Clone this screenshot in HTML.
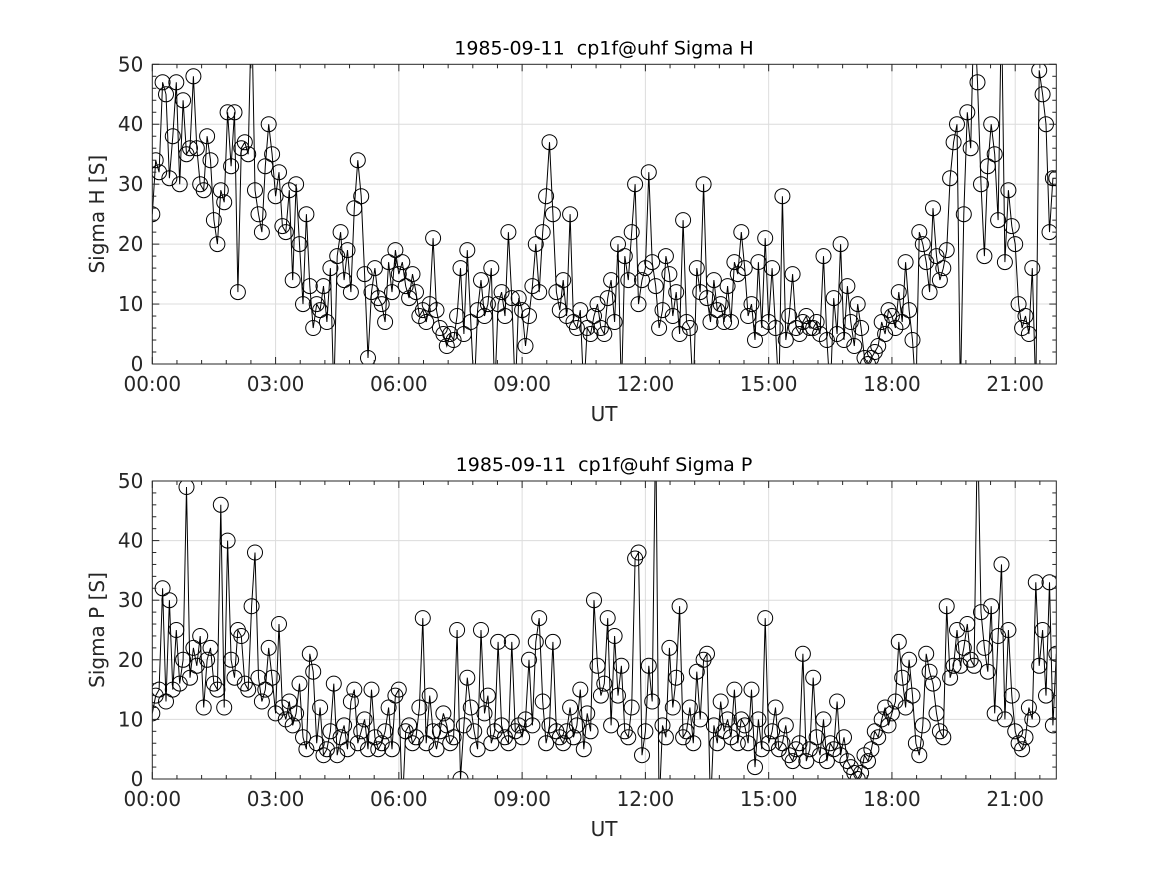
<!DOCTYPE html>
<html><head><meta charset="utf-8"><style>
html,body{margin:0;padding:0;background:#fff;}
svg{display:block;font-family:"DejaVu Sans","Liberation Sans",sans-serif;}
text{white-space:pre;}
</style></head><body>
<svg id="fig" width="1167" height="875" viewBox="0 0 1167 875" xmlns="http://www.w3.org/2000/svg"></svg>
<script>
const stepMinutes = 5;
const yTicks = [0,10,20,30,40,50];
const xTickHours = [0,3,6,9,12,15,18,21];
const xTickLabels = ["00:00","03:00","06:00","09:00","12:00","15:00","18:00","21:00"];
const sigmaH = [
25,34,32,47,45,31,38,47,30,44,35,36,
48,36,30,29,38,34,24,20,29,27,42,33,
42,12,36,37,35,60,29,25,22,33,40,35,
28,32,23,22,29,14,30,20,10,25,13,6,
10,9,13,7,16,-5,18,22,14,19,12,26,
34,28,15,1,12,16,11,10,7,17,12,19,
15,17,13,11,15,12,8,9,7,10,21,9,
6,5,3,5,4,8,16,5,19,7,-5,9,
14,8,10,16,-5,10,12,8,22,11,-5,11,
9,3,8,13,20,12,22,28,37,25,12,9,
14,8,25,7,6,9,-5,6,5,8,10,6,
5,11,14,7,20,-5,18,14,22,30,10,14,
16,32,17,13,6,9,18,15,8,12,5,24,
7,6,-5,16,12,30,11,7,14,9,10,7,
13,7,17,15,22,16,8,10,4,17,6,21,
7,16,6,-5,28,4,8,15,6,5,7,8,
6,6,7,5,18,4,-5,11,5,20,4,13,
7,3,10,6,1,0,1,2,3,7,5,9,
8,6,12,7,17,9,4,-5,22,20,17,12,
26,18,14,16,19,31,37,40,-5,25,42,36,
60,47,30,18,33,40,35,24,60,17,29,23,
20,10,6,8,5,16,-5,49,45,40,22,31,
31];
const sigmaP = [
11,14,15,32,13,30,15,25,16,20,49,17,
22,19,24,12,20,22,16,15,46,12,40,20,
17,25,24,16,15,29,38,17,13,15,22,17,
11,26,12,10,13,9,11,16,7,5,21,18,
6,12,4,5,8,16,4,7,9,5,13,15,
6,8,10,5,15,7,5,6,8,12,5,14,
15,-5,8,9,6,7,12,27,6,14,8,5,
8,11,9,6,7,25,0,9,17,12,8,5,
25,11,14,6,8,23,9,7,6,23,8,9,
7,10,20,9,23,27,13,6,9,23,8,7,
6,8,12,7,9,15,5,11,8,30,19,14,
16,27,9,24,14,19,8,7,12,37,38,4,
8,19,13,60,-5,9,7,22,12,17,29,7,
8,12,6,18,10,20,21,-5,9,6,13,8,
10,7,15,6,10,9,6,15,2,10,5,27,
6,8,12,5,6,9,4,3,5,6,21,3,
5,17,7,4,10,3,6,5,13,4,7,3,
2,1,0,1,4,3,5,8,7,10,12,9,
11,13,23,17,12,20,14,6,4,9,21,18,
16,11,8,7,29,17,19,25,19,22,26,20,
19,60,28,22,18,29,11,24,36,10,25,14,
8,6,5,7,12,10,33,19,25,14,33,9,
21];

const NS = "http://www.w3.org/2000/svg";
const svg = document.getElementById('fig');
function mk(tag, attrs, parent){
  const e = document.createElementNS(NS, tag);
  for (const k in attrs) e.setAttribute(k, attrs[k]);
  (parent||svg).appendChild(e);
  return e;
}
const X0 = 152.3, X1 = 1056.3, XMAX = 22;
function xs(h){ return X0 + (h/XMAX)*(X1-X0); }

function panel(cfg){
  const g = mk('g', {});
  
  
  const top = cfg.top, bot = cfg.bot;
  const ys = v => bot - (v/50)*(bot-top);
  const clipId = 'clip-' + cfg.name;
  const cp = mk('clipPath', {id: clipId}, g);
  mk('rect', {x: X0, y: top, width: X1-X0, height: bot-top}, cp);
  const grid = mk('g', {stroke:'#dcdcdc','stroke-width':1}, g);
  
  
  xTickHours.forEach(h => { if (h>0) mk('line',{x1:xs(h),x2:xs(h),y1:top,y2:bot},grid); });
  yTicks.forEach(v => { if (v>0 && v<50) mk('line',{x1:X0,x2:X1,y1:ys(v),y2:ys(v)},grid); });
  const dg = mk('g', {'clip-path':'url(#'+clipId+')'}, g);
  
  
  const pts = cfg.data.map((v,i)=> [xs(i*stepMinutes/60), ys(v)]);
  const line = mk('polyline', {points: pts.map(p=>p[0].toFixed(1)+','+p[1].toFixed(1)).join(' '), fill:'none', stroke:'#000','stroke-width':1}, dg);
  
  
  pts.forEach(p => {
    const c = mk('circle', {cx:p[0].toFixed(1), cy:p[1].toFixed(1), r:7.5, fill:'none', stroke:'#000','stroke-width':1}, dg);
    
    
  });
  const ax = mk('g', {stroke:'#262626','stroke-width':1, fill:'none'}, g);
  
  
  mk('rect', {x:X0, y:top, width:X1-X0, height:bot-top}, ax);
  for (let m=0; m<=XMAX*60; m+=36){
    const x = xs(m/60); const major = (m%180===0);
    const L = major?7:4;
    mk('line',{x1:x,x2:x,y1:bot,y2:bot-L},ax);
    mk('line',{x1:x,x2:x,y1:top,y2:top+L},ax);
  }
  for (let v=0; v<=50; v+=2){
    const y = ys(v); const major=(v%10===0); const L=major?7:4;
    mk('line',{x1:X0,x2:X0+L,y1:y,y2:y},ax);
    mk('line',{x1:X1,x2:X1-L,y1:y,y2:y},ax);
  }
  yTicks.forEach(v => {
    const t = mk('text',{x:X0-9,y:ys(v)+7,'text-anchor':'end','font-size':20,fill:'#262626'},g);
    t.textContent = v;
    
    
  });
  xTickHours.forEach((h,i) => {
    const t = mk('text',{x:xs(h),y:bot+27,'text-anchor':'middle','font-size':20,fill:'#262626'},g);
    t.textContent = xTickLabels[i];
    
    
  });
  const xl = mk('text',{x:604,y:bot+57,'text-anchor':'middle','font-size':20,fill:'#262626'},g);
  xl.textContent = 'UT';
  
  
  const cy = (top+bot)/2;
  const yl = mk('text',{x:0,y:0,'text-anchor':'middle','font-size':20,fill:'#262626',transform:'translate(104,'+cy+') rotate(-90)'},g);
  yl.textContent = cfg.ylabel;
  
  
  const tt = mk('text',{x:604,y:top-10,'text-anchor':'middle','font-size':19,fill:'#000'},g);
  tt.textContent = cfg.title;
  
  
}
panel({name:'sigma-h-panel', top:64.3, bot:364, data:sigmaH, ylabel:'Sigma H [S]', title:'1985-09-11  cp1f@uhf Sigma H'});
panel({name:'sigma-p-panel', top:481, bot:779, data:sigmaP, ylabel:'Sigma P [S]', title:'1985-09-11  cp1f@uhf Sigma P'});
</script>
</body></html>
